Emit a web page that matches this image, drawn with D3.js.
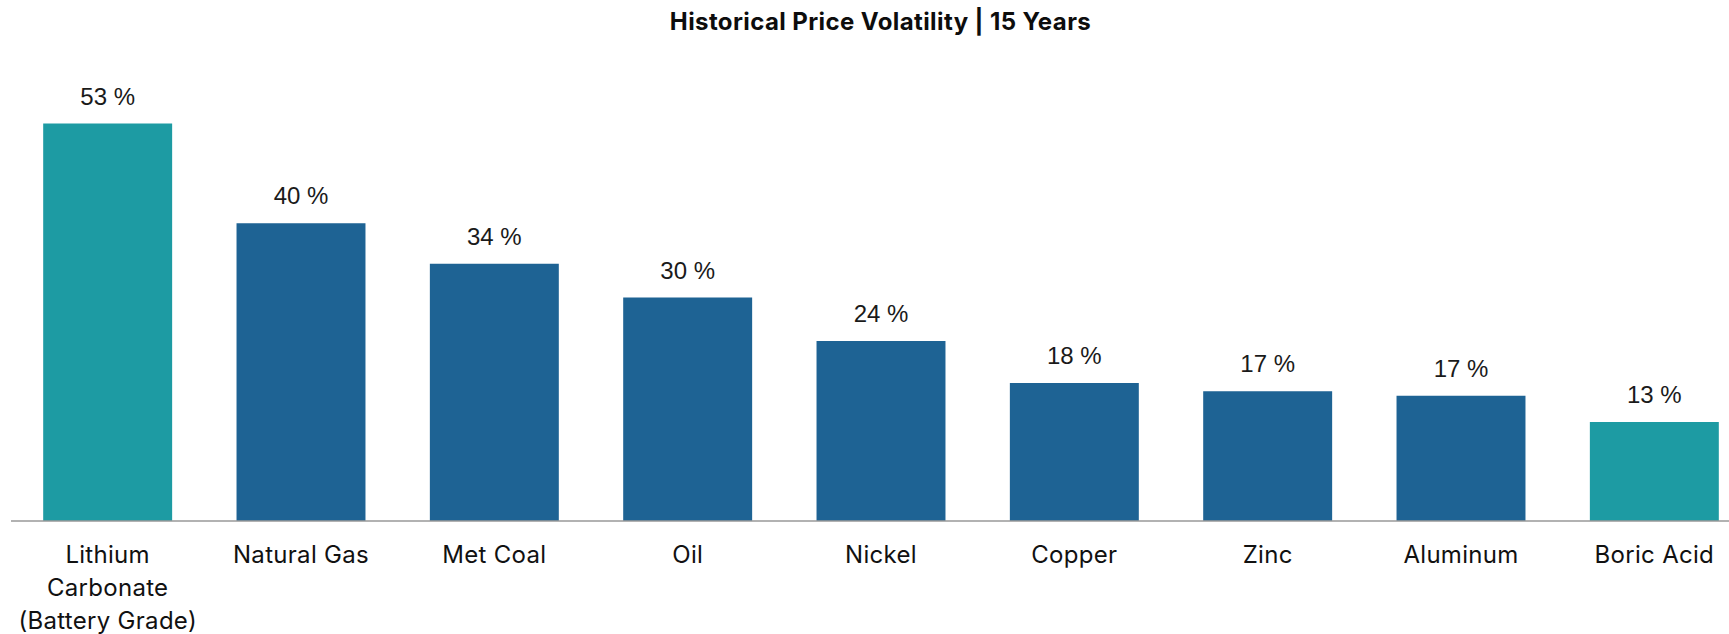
<!DOCTYPE html>
<html>
<head>
<meta charset="utf-8">
<script src="https://cdn.jsdelivr.net/npm/d3@7"></script>
<style>
  html, body { margin: 0; padding: 0; background: #fff; }
  svg { display: block; }
</style>
</head>
<body>
<div id="chart"></div>
<script>
(() => {
    const width = 1729;
    const height = 634;

    // data (volatility in %)
    const categories = ["Lithium Carbonate (Battery Grade)", "Natural Gas", "Met Coal", "Oil", "Nickel", "Copper", "Zinc", "Aluminum", "Boric Acid"];
    const volatility = [53, 39.7, 34.3, 29.8, 24.0, 18.4, 17.3, 16.7, 13.2];
    const highlighted = ["Lithium Carbonate (Battery Grade)", "Boric Acid"];

    const titleText = "Historical Price Volatility | 15 Years";

    const baseY = 521;
    const xScale = d3.scaleBand()
        .domain(categories)
        .range([11, 1751])
        .paddingInner(0.333)
        .paddingOuter(0.1665);

    const yScale = d3.scaleLinear()
        .domain([0, 60])
        .range([baseY, baseY - 450]);

    const svg = d3.select("#chart")
        .append("svg")
        .attr("width", width)
        .attr("height", height);

    svg.append("text")
        .attr("x", 880.5)
        .attr("y", 29.5)
        .attr("text-anchor", "middle")
        .style("font-family", "Inter, 'Open Sans', sans-serif")
        .style("font-weight", 700)
        .style("font-size", "24px")
        .style("letter-spacing", "0.4px")
        .attr("fill", "#0d0d0d")
        .text(titleText);

    const rows = categories.map((c, i) => ({ name: c, value: volatility[i] }));

    svg.selectAll("rect.bar")
        .data(rows)
        .join("rect")
        .attr("class", "bar")
        .attr("x", d => xScale(d.name))
        .attr("y", d => yScale(d.value))
        .attr("width", xScale.bandwidth())
        .attr("height", d => yScale(0) - yScale(d.value))
        .attr("fill", d => highlighted.includes(d.name) ? "#1d9ba3" : "#1e6394");

    svg.selectAll("text.value")
        .data(rows)
        .join("text")
        .attr("class", "value")
        .attr("x", d => xScale(d.name) + xScale.bandwidth() / 2)
        .attr("y", d => yScale(d.value) - 19)
        .attr("text-anchor", "middle")
        .style("font-family", "'Liberation Sans', Arial, sans-serif")
        .style("font-size", "24px")
        .attr("fill", "#1a1a1a")
        .text(d => d3.format(".0f")(d.value) + " %");

    // x axis: baseline plus wrapped category labels
    const xAxis = svg.append("g")
        .attr("transform", `translate(0, ${baseY})`)
        .call(d3.axisBottom(xScale).tickSize(0).tickPadding(0));

    xAxis.select(".domain")
        .attr("d", `M11,0H${width}`)
        .attr("stroke", "#999")
        .attr("stroke-width", 1.6);

    xAxis.selectAll(".tick text")
        .style("font-family", "Inter, 'Open Sans', sans-serif")
        .style("font-size", "24px")
        .style("letter-spacing", "0.3px")
        .attr("fill", "#111")
        .attr("dy", null)
        .attr("y", 41.7)
        .call(wrap, xScale.step() - 8);

    function wrap(texts, maxWidth) {
        texts.each(function () {
            const text = d3.select(this);
            const words = text.text().split(/\s+/);
            const y = text.attr("y");
            text.text(null);
            let line = [];
            let lineNo = 0;
            let tspan = text.append("tspan").attr("x", 0).attr("y", y);
            words.forEach(word => {
                line.push(word);
                tspan.text(line.join(" "));
                if (tspan.node().getComputedTextLength() > maxWidth && line.length > 1) {
                    line.pop();
                    tspan.text(line.join(" "));
                    line = [word];
                    lineNo++;
                    tspan = text.append("tspan")
                        .attr("x", 0)
                        .attr("y", +y + lineNo * 33)
                        .text(word);
                }
            });
        });
    }
})();
</script>
</body>
</html>
